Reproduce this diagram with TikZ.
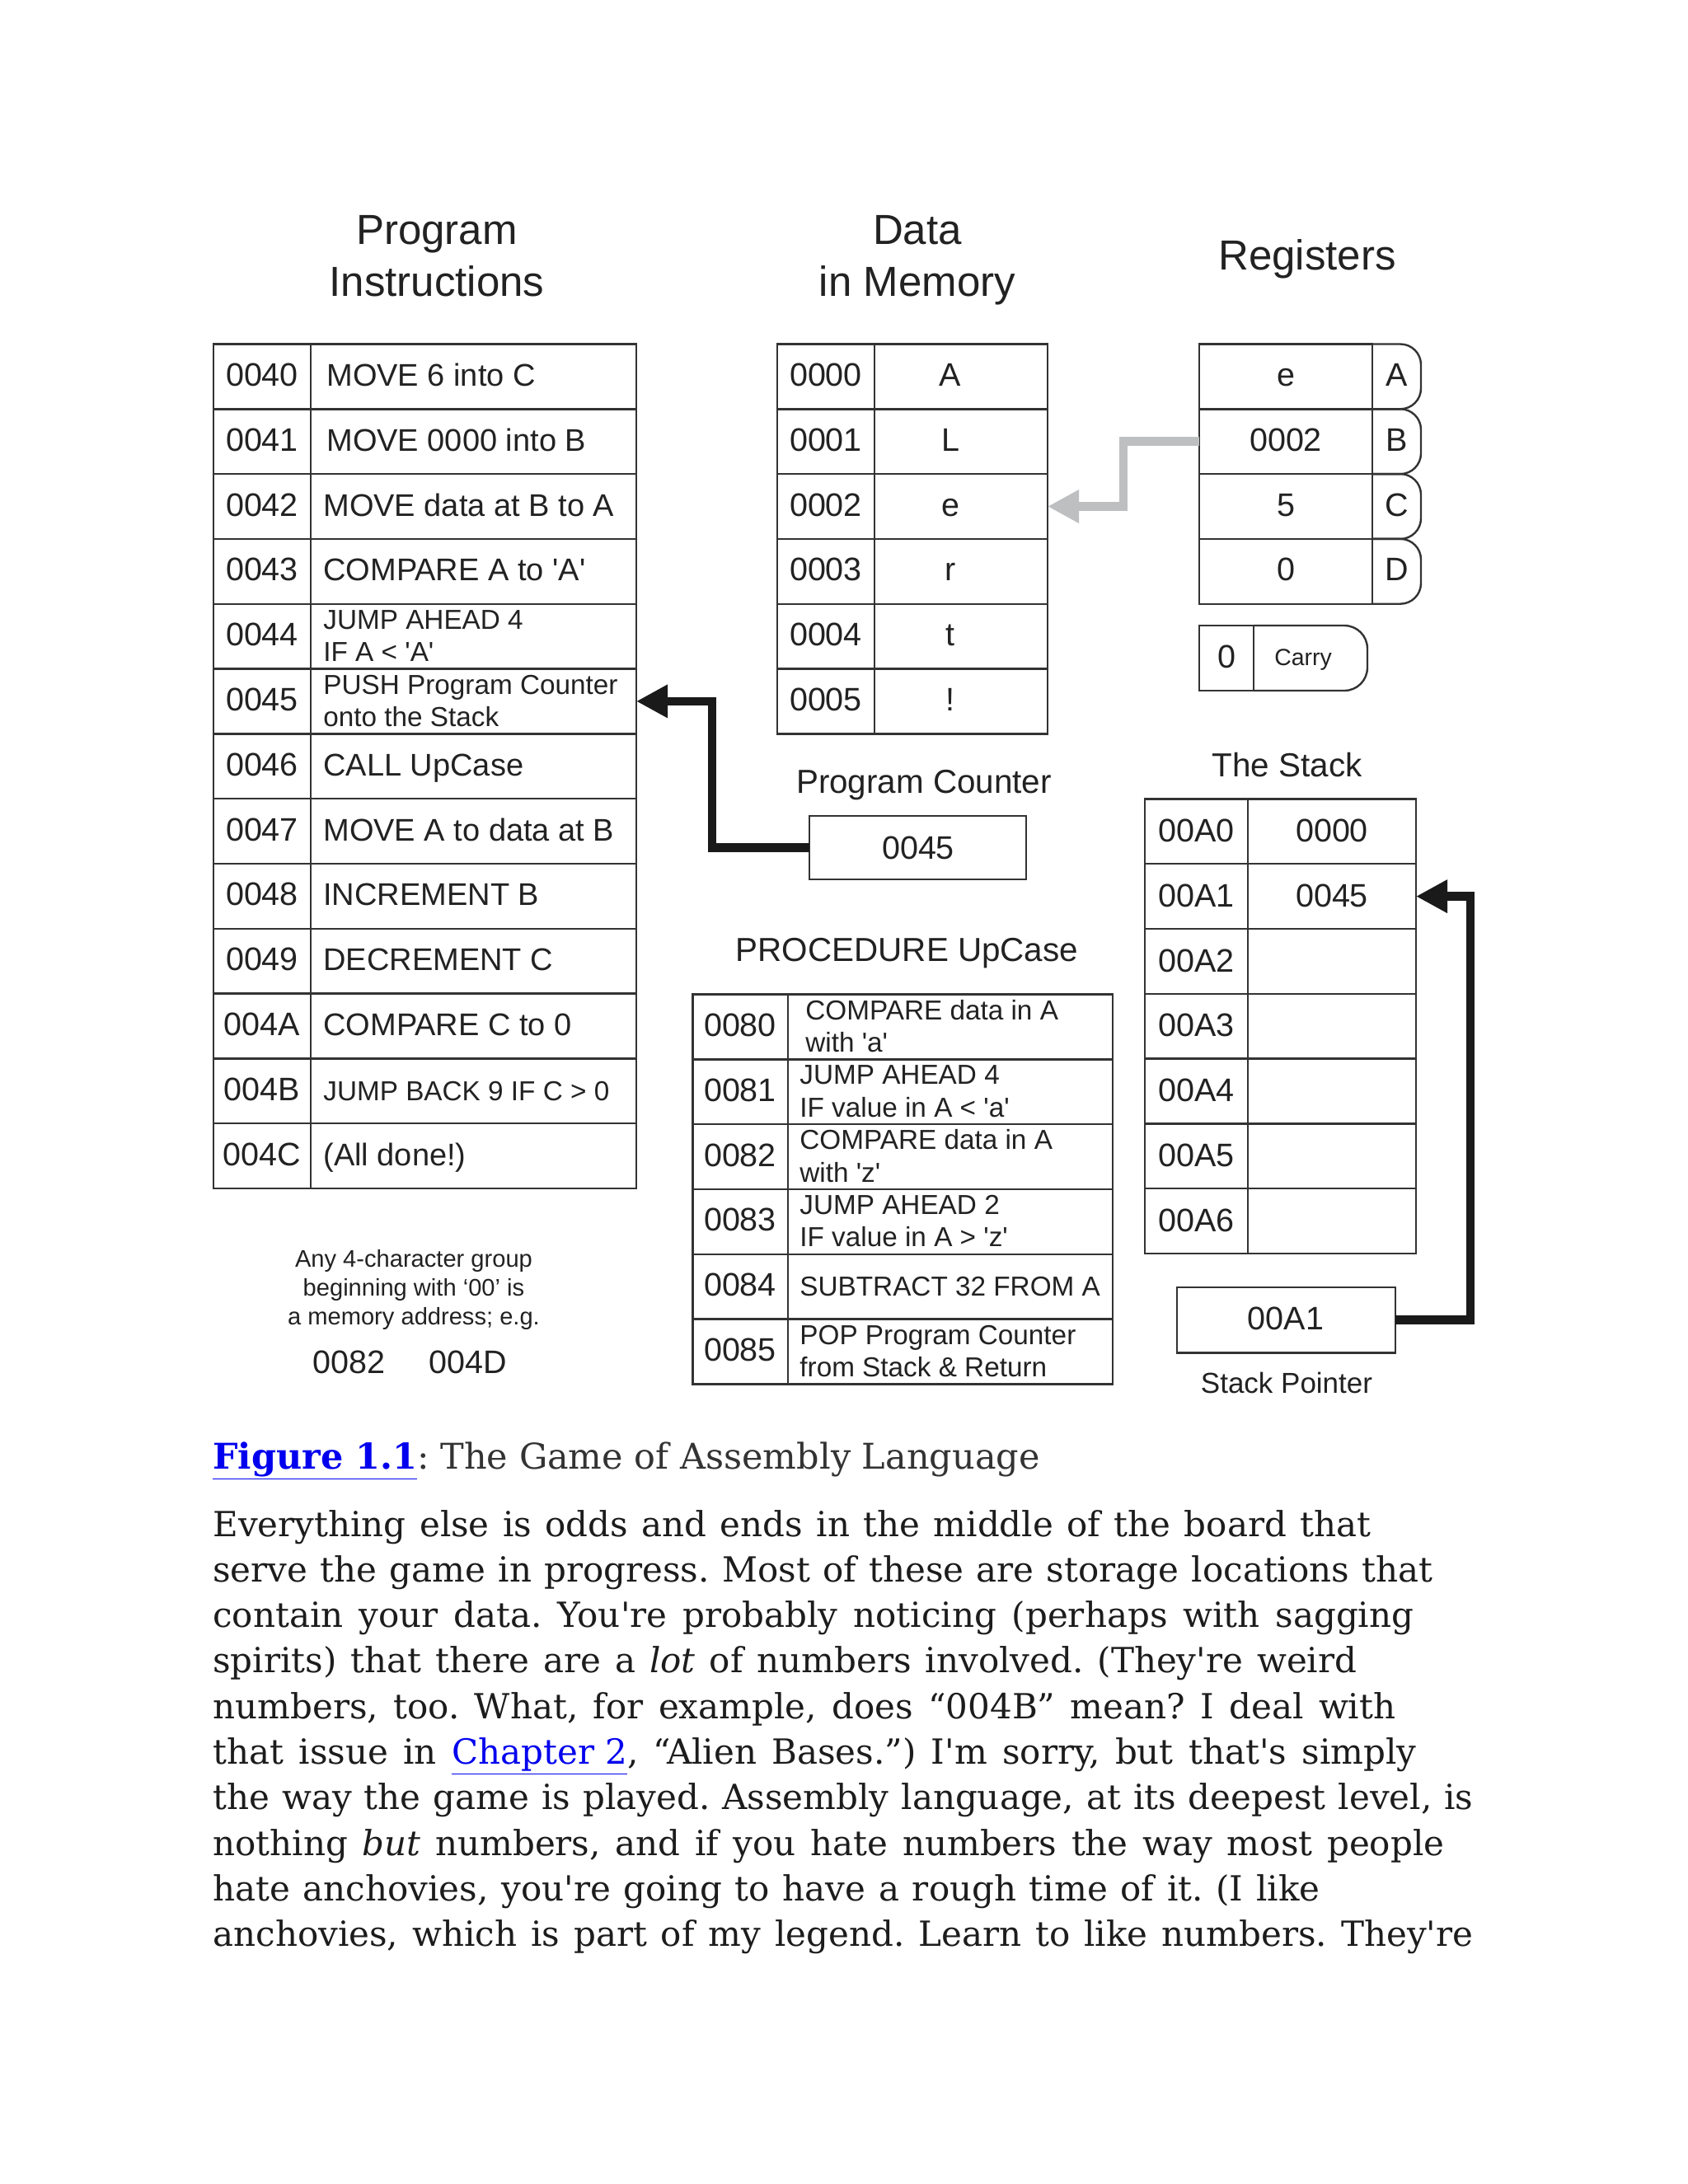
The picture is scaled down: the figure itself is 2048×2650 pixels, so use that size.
\documentclass[tikz,border=0pt]{standalone}
\usepackage{fontspec}
\usetikzlibrary{arrows.meta}
\newfontfamily\diag{Liberation Sans}
\newfontfamily\bodyfont{DejaVu Serif}
\definecolor{linec}{HTML}{333333}
\definecolor{txt}{HTML}{222222}
\definecolor{arrblack}{HTML}{1A1A1A}
\definecolor{arrgray}{HTML}{BDBFC0}
\definecolor{linkblue}{RGB}{0,0,238}
\definecolor{capgray}{HTML}{333333}
\definecolor{bodyc}{HTML}{1C1C1C}
\newcommand\ftitle{\diag\fontsize{25.5pt}{31pt}\selectfont}
\newcommand\faddr{\diag\fontsize{19.75pt}{22pt}\selectfont}
\newcommand\finstr{\diag\fontsize{19pt}{22pt}\selectfont}
\newcommand\fsmall{\diag\fontsize{16.65pt}{20pt}\selectfont}
\newcommand\flabel{\diag\fontsize{20.2pt}{24pt}\selectfont}
\newcommand\fsptr{\diag\fontsize{17.5pt}{20pt}\selectfont}
\newcommand\fcarry{\diag\fontsize{14.2pt}{17pt}\selectfont}
\newcommand\fnote{\diag\fontsize{14.55pt}{17.5pt}\selectfont}
\newcommand\fbody{\bodyfont\fontsize{21pt}{27pt}\selectfont\frenchspacing}
\newcommand\fcap{\bodyfont\fontsize{21.5pt}{27pt}\selectfont\frenchspacing}
\newcommand\lnk[1]{\textcolor{linkblue}{\underline{#1}}}
\frenchspacing
\begin{document}
\begin{tikzpicture}[x=0.5pt,y=-0.5pt,
  cell/.style={draw=linec, line width=1.2pt, inner sep=0pt, outer sep=0pt, minimum height=39.4pt, anchor=north west},
  tabcell/.style={inner sep=0pt, outer sep=0pt, minimum height=39.4pt, anchor=north west},
  tabline/.style={draw=linec, line width=1.2pt},
  tx/.style={inner sep=0pt, text=txt, anchor=base},
  txl/.style={inner sep=0pt, text=txt, anchor=base west},
  fat/.style={line width=5.35pt, line join=miter, line cap=butt, -{Triangle[length=19pt,width=19pt]}},
  bodyline/.style={inner sep=0pt, anchor=base west, text=bodyc, font=\fbody}
]
\fill[white] (0,0) rectangle (2048,2650);
\useasboundingbox (0,0) rectangle (2048,2650);

% ---------- titles ----------
\node[tx,font=\ftitle] (t1a) at (530,296) {Program};
\node[tx,font=\ftitle] (t1b) at (530,359.5) {Instructions};
\node[tx,font=\ftitle] (t2a) at (1113,296) {Data};
\node[tx,font=\ftitle] (t2b) at (1113,359.5) {in Memory};
\node[tx,font=\ftitle] (t3) at (1586,327) {Registers};

% ---------- program instructions ----------
\foreach \a [count=\i from 0] in {0040,0041,0042,0043,0044,0045,0046,0047,0048,0049,004A,004B,004C}{
  \node[cell,minimum width=59pt] (pa\i) at (259,{417.5+78.8*\i}) {};
  \node[cell,minimum width=197.5pt] (pi\i) at (377,{417.5+78.8*\i}) {};
  \node[tx,font=\faddr] (pat\i) at (318,{468.5+78.8*\i}) {\a};
}
\node[txl,font=\finstr] (it0) at (396,468.5) {MOVE 6 into C};
\node[txl,font=\finstr] (it1) at (396,547.3) {MOVE 0000 into B};
\node[txl,font=\finstr] (it2) at (392,626.1) {MOVE data at B to A};
\node[txl,font=\finstr] (it3) at (392,704.9) {COMPARE A to 'A'};
\node[txl,font=\fsmall] (it4a) at (392,763.2) {JUMP AHEAD 4};
\node[txl,font=\fsmall] (it4b) at (392,802.7) {IF A < 'A'};
\node[txl,font=\fsmall] (it5a) at (392,842) {PUSH Program Counter};
\node[txl,font=\fsmall] (it5b) at (392,881.5) {onto the Stack};
\node[txl,font=\finstr] (it6) at (392,941.3) {CALL UpCase};
\node[txl,font=\finstr] (it7) at (392,1020.1) {MOVE A to data at B};
\node[txl,font=\finstr] (it8) at (392,1098.9) {INCREMENT B};
\node[txl,font=\finstr] (it9) at (392,1177.7) {DECREMENT C};
\node[txl,font=\finstr] (it10) at (392,1256.5) {COMPARE C to 0};
\node[txl,font=\fsmall] (it11) at (392,1335.3) {JUMP BACK 9 IF C > 0};
\node[txl,font=\finstr] (it12) at (392,1414.1) {(All done!)};

% ---------- data in memory ----------
\foreach \a/\v [count=\i from 0] in {0000/A,0001/L,0002/e,0003/r,0004/t,0005/!}{
  \node[cell,minimum width=59pt] (da\i) at (943,{417.5+78.8*\i}) {};
  \node[cell,minimum width=105pt] (dv\i) at (1061,{417.5+78.8*\i}) {};
  \node[tx,font=\faddr] (dat\i) at (1002,{468.5+78.8*\i}) {\a};
  \node[tx,font=\faddr] (dvt\i) at (1153,{468.5+78.8*\i}) {\v};
}

% ---------- registers ----------
\foreach \v/\r [count=\i from 0] in {e/A,0002/B,5/C,0/D}{
  \node[cell,minimum width=105pt] (rv\i) at (1455,{417.5+78.8*\i}) {};
  \node[tabcell,minimum width=29.5pt] (rt\i) at (1665,{417.5+78.8*\i}) {};
  \draw[tabline,rounded corners=12.5pt] (rt\i.north west) -- (rt\i.north east) -- (rt\i.south east) -- (rt\i.south west);
  \node[tx,font=\faddr] (rvt\i) at (1560,{468.5+78.8*\i}) {\v};
  \node[tx,font=\faddr] (rtt\i) at (1694.5,{468.5+78.8*\i}) {\r};
}
% carry flag
\node[cell,minimum width=33pt,minimum height=39.5pt] (cz) at (1455,759) {};
\node[tabcell,minimum width=69pt,minimum height=39.5pt] (ct) at (1521,759) {};
\draw[tabline,rounded corners=14pt] (ct.north west) -- (ct.north east) -- (ct.south east) -- (ct.south west);
\node[tx,font=\faddr] (czt) at (1488,810) {0};
\node[tx,font=\fcarry] (ctt) at (1581,807) {Carry};

% ---------- program counter ----------
\node[tx,font=\flabel] (pclab) at (1121,962.6) {Program Counter};
\node[cell,minimum width=131.5pt,minimum height=38.5pt] (pc) at (982,990) {};
\node[tx,font=\faddr] (pct) at (1114,1042) {0045};

% ---------- procedure UpCase ----------
\node[tx,font=\flabel] (prlab) at (1100.5,1166.6) {PROCEDURE UpCase};
\foreach \a [count=\i from 0] in {0080,0081,0082,0083,0084,0085}{
  \node[cell,minimum width=57.65pt] (qa\i) at (840.4,{1206.5+78.8*\i}) {};
  \node[cell,minimum width=197.15pt] (qi\i) at (955.7,{1206.5+78.8*\i}) {};
  \node[tx,font=\faddr] (qat\i) at (898,{1257.5+78.8*\i}) {\a};
}
\node[txl,font=\fsmall] (qt0a) at (977,1237) {COMPARE data in A};
\node[txl,font=\fsmall] (qt0b) at (977,1276.5) {with 'a'};
\node[txl,font=\fsmall] (qt1a) at (970,1315.8) {JUMP AHEAD 4};
\node[txl,font=\fsmall] (qt1b) at (970,1355.3) {IF value in A < 'a'};
\node[txl,font=\fsmall] (qt2a) at (970,1394.6) {COMPARE data in A};
\node[txl,font=\fsmall] (qt2b) at (970,1434.1) {with 'z'};
\node[txl,font=\fsmall] (qt3a) at (970,1473.4) {JUMP AHEAD 2};
\node[txl,font=\fsmall] (qt3b) at (970,1512.9) {IF value in A > 'z'};
\node[txl,font=\fsmall] (qt4) at (970,1572.7) {SUBTRACT 32 FROM A};
\node[txl,font=\fsmall] (qt5a) at (970,1631) {POP Program Counter};
\node[txl,font=\fsmall] (qt5b) at (970,1670.5) {from Stack \& Return};

% ---------- the stack ----------
\node[tx,font=\flabel] (stlab) at (1561.7,942.3) {The Stack};
\foreach \a/\v [count=\i from 0] in {00A0/0000,00A1/0045,00A2/,00A3/,00A4/,00A5/,00A6/}{
  \node[cell,minimum width=62.5pt] (sa\i) at (1389,{969.4+78.8*\i}) {};
  \node[cell,minimum width=102pt] (sv\i) at (1514,{969.4+78.8*\i}) {};
  \node[tx,font=\faddr] (sat\i) at (1451.5,{1021.4+78.8*\i}) {\a};
  \node[tx,font=\faddr] (svt\i) at (1616,{1021.4+78.8*\i}) {\v};
}
\node[cell,minimum width=132.5pt,minimum height=39.75pt] (sp) at (1428,1562) {};
\node[tx,font=\faddr] (spt) at (1560,1613) {00A1};
\node[tx,font=\fsptr] (splab) at (1561,1690) {Stack Pointer};

% ---------- note ----------
\node[tx,font=\fnote] (n1) at (502,1537) {Any 4-character group};
\node[tx,font=\fnote] (n2) at (502,1572.7) {beginning with ‘00’ is};
\node[tx,font=\fnote] (n3) at (502,1607) {a memory address; e.g.};
\node[tx,font=\faddr] (n4) at (423.3,1666) {0082};
\node[tx,font=\faddr] (n5) at (568,1666) {004D};

% ---------- connectors ----------
\draw[fat,draw=arrblack] (pc.west) -- ++(-118,0) |- (pi5.east);
\draw[fat,draw=arrgray] (rv1.west) -- ++(-92,0) |- (dv2.east);
\draw[fat,draw=arrblack] (sp.east) -- ++(91,0) |- (sv1.east);

% ---------- caption and body text ----------
\node[inner sep=0pt,anchor=base west,font=\fcap] (cap) at (258,1782)
  {\textcolor{linkblue}{\textbf{\underline{Figure 1.1}}}\textcolor{capgray}{: The Game of Assembly Language}};
\node[bodyline] (l1) at (258,1864.0) {\makebox[702.5pt][s]{Everything else is odds and ends in the middle of the board that}};
\node[bodyline] (l2) at (258,1919.3) {\makebox[740pt][s]{serve the game in progress. Most of these are storage locations that}};
\node[bodyline] (l3) at (258,1974.6) {\makebox[728.5pt][s]{contain your data. You're probably noticing (perhaps with sagging}};
\node[bodyline] (l4) at (258,2029.9) {\makebox[694pt][s]{spirits) that there are a \textit{lot} of numbers involved. (They're weird}};
\node[bodyline] (l5) at (258,2085.2) {\makebox[717.5pt][s]{numbers, too. What, for example, does “004B” mean? I deal with}};
\node[bodyline] (l6) at (258,2140.5) {\makebox[730pt][s]{that issue in \lnk{Chapter 2}, “Alien Bases.”) I'm sorry, but that's simply}};
\node[bodyline] (l7) at (258,2195.8) {\makebox[764.5pt][s]{the way the game is played. Assembly language, at its deepest level, is}};
\node[bodyline] (l8) at (258,2251.1) {\makebox[747pt][s]{nothing \textit{but} numbers, and if you hate numbers the way most people}};
\node[bodyline] (l9) at (258,2306.4) {\makebox[671.5pt][s]{hate anchovies, you're going to have a rough time of it. (I like}};
\node[bodyline] (l10) at (258,2361.7) {\makebox[764.5pt][s]{anchovies, which is part of my legend. Learn to like numbers. They're}};
\end{tikzpicture}
\end{document}
